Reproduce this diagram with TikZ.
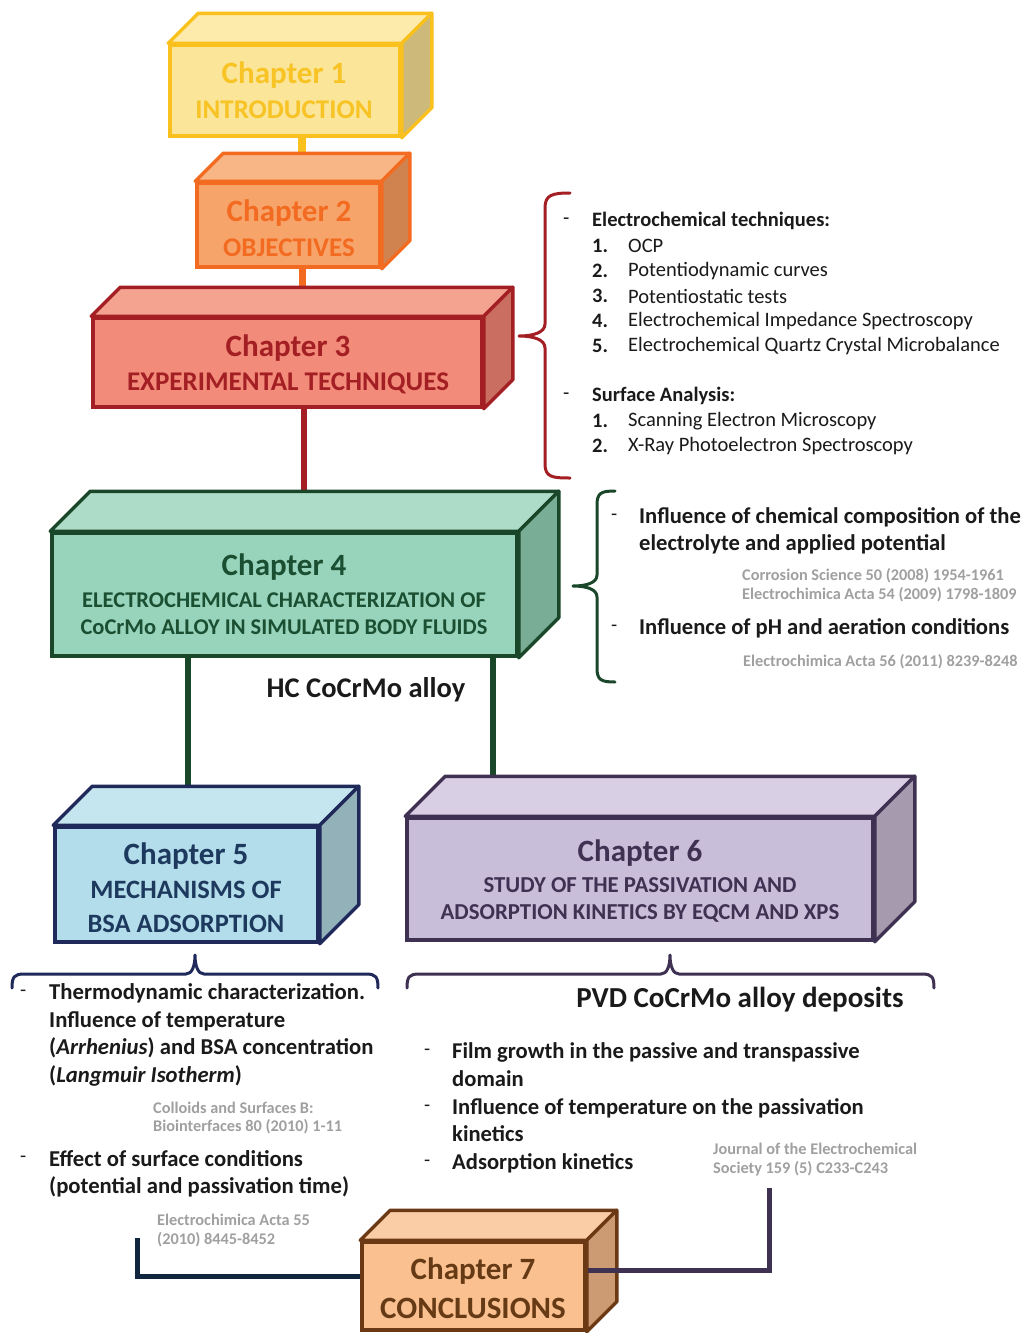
\documentclass[tikz,border=0pt]{standalone}
\usepackage{fontspec}
\setmainfont{Carlito}
\usetikzlibrary{backgrounds}
\definecolor{yborder}{HTML}{F9C01E}\definecolor{yfront}{HTML}{FBE598}\definecolor{ytop}{HTML}{FCEBAA}\definecolor{yside}{HTML}{CDB97A}\definecolor{ytext}{HTML}{F7C325}
\definecolor{oborder}{HTML}{F26B21}\definecolor{ofront}{HTML}{F7A46A}\definecolor{otop}{HTML}{F8B585}\definecolor{oside}{HTML}{D1834F}\definecolor{otext}{HTML}{F26B21}
\definecolor{rborder}{HTML}{A31F24}\definecolor{rfront}{HTML}{F28B7A}\definecolor{rtop}{HTML}{F5A391}\definecolor{rside}{HTML}{C96E60}\definecolor{rtext}{HTML}{A31F24}
\definecolor{gborder}{HTML}{1A472A}\definecolor{gfront}{HTML}{98D4BC}\definecolor{gtop}{HTML}{ADDCC8}\definecolor{gside}{HTML}{79AD96}\definecolor{gtext}{HTML}{1B4F32}
\definecolor{bborder}{HTML}{1F2A5A}\definecolor{bfront}{HTML}{B4DDEB}\definecolor{btop}{HTML}{C5E5EF}\definecolor{bside}{HTML}{93B1B9}\definecolor{btext}{HTML}{1D3A5E}
\definecolor{pborder}{HTML}{3F3152}\definecolor{pfront}{HTML}{C8BED9}\definecolor{ptop}{HTML}{D8CFE4}\definecolor{pside}{HTML}{A59AAE}\definecolor{ptext}{HTML}{3F3152}
\definecolor{wborder}{HTML}{6B3A14}\definecolor{wfront}{HTML}{FAC090}\definecolor{wtop}{HTML}{FBCDA6}\definecolor{wside}{HTML}{CC9A73}\definecolor{wtext}{HTML}{653A14}
\definecolor{navy}{HTML}{10263F}\definecolor{txt}{HTML}{1A1A1A}\definecolor{refgray}{HTML}{A0A0A0}
\newcommand\cuboid[7]{% name, x, y, w, h, depth, prefix
  \node[boxfront, minimum width=#4pt, minimum height=#5pt, draw=#7border, fill=#7front] (#1) at (#2,#3) {};
  \draw[boxface, draw=#7border, fill=#7top] (#1.north west) -- ++(#6,-#6) -- ([shift={(#6,-#6)}]#1.north east) -- (#1.north east) -- cycle;
  \draw[boxface, draw=#7border, fill=#7side] (#1.north east) -- ++(#6,-#6) -- ([shift={(#6,-#6)}]#1.south east) -- (#1.south east) -- cycle;
  \coordinate (#1-back) at ([shift={(#6,-#6)}]#1.north west);
}
\newcommand\fs[1]{\fontsize{#1}{#1}\selectfont}
\begin{document}
\begin{tikzpicture}[x=1pt,y=-1pt,
  boxfront/.style={rectangle, inner sep=0pt, line width=3.5pt},
  boxface/.style={line width=3.5pt, line join=round},
  chap/.style={inner sep=0pt, font=\bfseries\fs{31}},
  sub/.style={inner sep=0pt, font=\bfseries\fs{27}},
  lst/.style={anchor=west, inner sep=0pt, text=txt},
  refs/.style={anchor=west, inner sep=0pt, text=refgray, font=\bfseries\fs{16.3}},
  brace/.style={line width=3pt, line cap=round, line join=round}]
\useasboundingbox (0,0) rectangle (1024,1333);

% boxes
\cuboid{c1}{285}{90.5}{230}{91}{30}{y}
\cuboid{c2}{288.5}{225}{183}{84}{28}{o}
\cuboid{c3}{287.5}{362.5}{389}{89}{29}{r}
\cuboid{c4}{284.5}{594.5}{465}{123}{40}{g}
\cuboid{c5}{186.5}{884.5}{263}{115}{39}{b}
\cuboid{c6}{640}{879}{466}{122}{40}{p}
\cuboid{c7}{473.5}{1286}{223}{88}{30}{w}

% connectors
\begin{pgfonlayer}{background}
\fill[white] (0,0) rectangle (1024,1333);
\draw[line width=8pt, yborder] ([xshift=17pt]c1.south) -- ([xshift=17pt]c1.south |- c2-back);
\draw[line width=7pt, oborder] ([xshift=13.5pt]c2.south) -- ([xshift=13.5pt]c2.south |- c3-back);
\draw[line width=6pt, rborder] ([xshift=16.5pt]c3.south) -- ([xshift=16.5pt]c3.south |- c4-back);
\draw[line width=6pt, gborder] ([xshift=-96.5pt]c4.south) -- ([xshift=-96.5pt]c4.south |- c5-back);
\draw[line width=6pt, gborder] ([xshift=208.5pt]c4.south) -- ([xshift=208.5pt]c4.south |- c6-back);
\end{pgfonlayer}
\coordinate (l5) at (137,1238);
\coordinate (r6) at (769,1188);
\draw[line width=5pt, navy] (l5) |- (c7.west |- 0,1276);
\draw[line width=5pt, pborder] (r6) |- ([xshift=1pt]c7.east |- 0,1270);

% box texts
\node[chap, text=ytext] (t1a) at (284,75) {Chapter 1};
\node[sub, text=ytext] (t1b) at (284,110) {INTRODUCTION};
\node[chap, text=otext] (t2a) at (289,213) {Chapter 2};
\node[sub, text=otext] (t2b) at (289,248) {OBJECTIVES};
\node[chap, text=rtext] (t3a) at (288,348) {Chapter 3};
\node[sub, text=rtext] (t3b) at (288,383) {EXPERIMENTAL TECHNIQUES};
\node[chap, text=gtext] (t4a) at (284,567) {Chapter 4};
\node[sub, text=gtext, font=\bfseries\fs{22.5}] (t4b) at (284,600) {ELECTROCHEMICAL CHARACTERIZATION OF};
\node[sub, text=gtext, font=\bfseries\fs{22.5}] (t4c) at (284,627) {CoCrMo ALLOY IN SIMULATED BODY FLUIDS};
\node[chap, text=btext] (t5a) at (186,856) {Chapter 5};
\node[sub, text=btext, font=\bfseries\fs{26.5}] (t5b) at (186,890) {MECHANISMS OF};
\node[sub, text=btext, font=\bfseries\fs{26.5}] (t5c) at (186,924) {BSA ADSORPTION};
\node[chap, text=ptext] (t6a) at (640,853) {Chapter 6};
\node[sub, text=ptext, font=\bfseries\fs{22.8}] (t6b) at (640,885) {STUDY OF THE PASSIVATION AND};
\node[sub, text=ptext, font=\bfseries\fs{22.8}] (t6c) at (640,913) {ADSORPTION KINETICS BY EQCM AND XPS};
\node[chap, text=wtext] (t7a) at (473,1271) {Chapter 7};
\node[sub, text=wtext, font=\bfseries\fs{31}] (t7b) at (473,1308) {CONCLUSIONS};

\node[inner sep=0pt, text=txt, font=\bfseries\fs{28.5}] (hc) at (366,690) {HC CoCrMo alloy};
\node[inner sep=0pt, text=txt, font=\bfseries\fs{29}] (pvd) at (740,1000) {PVD CoCrMo alloy deposits};

% brace ch3
\draw[brace, rborder] (570,193) .. controls (552,193) and (545,195) .. (545,208) -- (545,324) .. controls (545,333) and (532,336) .. (519,336) .. controls (532,336) and (545,339) .. (545,348) -- (545,464) .. controls (545,477) and (552,478) .. (570,478);
% brace ch4
\draw[brace, gborder] (615,491) .. controls (601,491) and (597,493) .. (597,505) -- (597,575) .. controls (597,583) and (586,586) .. (573,586) .. controls (586,586) and (597,589) .. (597,597) -- (597,668) .. controls (597,680) and (601,682) .. (615,682);
% brace ch5
\draw[brace, bborder] (12,988) .. controls (12,977) and (14,974) .. (24,974) -- (186,974) .. controls (192,974) and (195,966) .. (195,955) .. controls (195,966) and (198,974) .. (204,974) -- (366,974) .. controls (376,974) and (378,977) .. (378,988);
% brace ch6
\draw[brace, pborder] (407,988) .. controls (407,977) and (409,974) .. (419,974) -- (661,974) .. controls (667,974) and (670,966) .. (670,955) .. controls (670,966) and (673,974) .. (679,974) -- (922,974) .. controls (932,974) and (934,977) .. (934,988);

% ch3 list
\begin{scope}[every node/.append style={lst, font=\fs{20.5}}]
\node (a0d) at (563,221) {-};
\node[font=\bfseries\fs{20.5}] (a0) at (592,221) {Electrochemical techniques:};
\node[font=\bfseries\fs{20.5}] (a1n) at (592,246) {1.}; \node (a1) at (628,246) {OCP};
\node[font=\bfseries\fs{20.5}] (a2n) at (592,271) {2.}; \node (a2) at (628,271) {Potentiodynamic curves};
\node[font=\bfseries\fs{20.5}] (a3n) at (592,296) {3.}; \node (a3) at (628,296) {Potentiostatic tests};
\node[font=\bfseries\fs{20.5}] (a4n) at (592,321) {4.}; \node (a4) at (628,321) {Electrochemical Impedance Spectroscopy};
\node[font=\bfseries\fs{20.5}] (a5n) at (592,346) {5.}; \node (a5) at (628,346) {Electrochemical Quartz Crystal Microbalance};
\node (b0d) at (563,396) {-};
\node[font=\bfseries\fs{20.5}] (b0) at (592,396) {Surface Analysis:};
\node[font=\bfseries\fs{20.5}] (b1n) at (592,421) {1.}; \node (b1) at (628,421) {Scanning Electron Microscopy};
\node[font=\bfseries\fs{20.5}] (b2n) at (592,446) {2.}; \node (b2) at (628,446) {X-Ray Photoelectron Spectroscopy};
\end{scope}

% ch4 list
\begin{scope}[every node/.append style={lst, font=\bfseries\fs{22.6}}]
\node[font=\fs{20}] (d1) at (611,517) {-};
\node (e1) at (639,517) {Influence of chemical composition of the};
\node (e2) at (639,544) {electrolyte and applied potential};
\node[font=\fs{20}] (d2) at (611,628) {-};
\node (e3) at (639,628) {Influence of pH and aeration conditions};
\end{scope}
\node[refs] (r1) at (742,576) {Corrosion Science 50 (2008) 1954-1961};
\node[refs] (r2) at (742,595) {Electrochimica Acta 54 (2009) 1798-1809};
\node[refs] (r3) at (743,662) {Electrochimica Acta 56 (2011) 8239-8248};

% ch5 list
\begin{scope}[every node/.append style={lst, font=\bfseries\fs{22.7}}]
\node[font=\fs{20}] (f0) at (20,993) {-};
\node (f1) at (49,993) {Thermodynamic characterization.};
\node (f2) at (49,1021) {Influence of temperature};
\node (f3) at (49,1048) {(\textit{Arrhenius}) and BSA concentration};
\node (f4) at (49,1076) {(\textit{Langmuir Isotherm})};
\node[font=\fs{20}] (g0) at (20,1159) {-};
\node (g1) at (49,1159) {Effect of surface conditions};
\node (g2) at (49,1187) {(potential and passivation time)};
\end{scope}
\node[refs] (r4) at (153,1108) {Colloids and Surfaces B:};
\node[refs] (r5) at (153,1127) {Biointerfaces 80 (2010) 1-11};
\node[refs] (r6) at (157,1220) {Electrochimica Acta 55};
\node[refs] (r7) at (157,1240) {(2010) 8445-8452};

% ch6 list
\begin{scope}[every node/.append style={lst, font=\bfseries\fs{22.6}}]
\node[font=\fs{20}] (h0) at (424,1052) {-};
\node (h1) at (452,1052) {Film growth in the passive and transpassive};
\node (h2) at (452,1079) {domain};
\node[font=\fs{20}] (h3) at (424,1108) {-};
\node (h4) at (452,1108) {Influence of temperature on the passivation};
\node (h5) at (452,1134) {kinetics};
\node[font=\fs{20}] (h6) at (424,1163) {-};
\node (h7) at (452,1163) {Adsorption kinetics};
\end{scope}
\node[refs] (r8) at (713,1149) {Journal of the Electrochemical};
\node[refs] (r9) at (713,1169) {Society 159 (5) C233-C243};
\end{tikzpicture}
\end{document}
